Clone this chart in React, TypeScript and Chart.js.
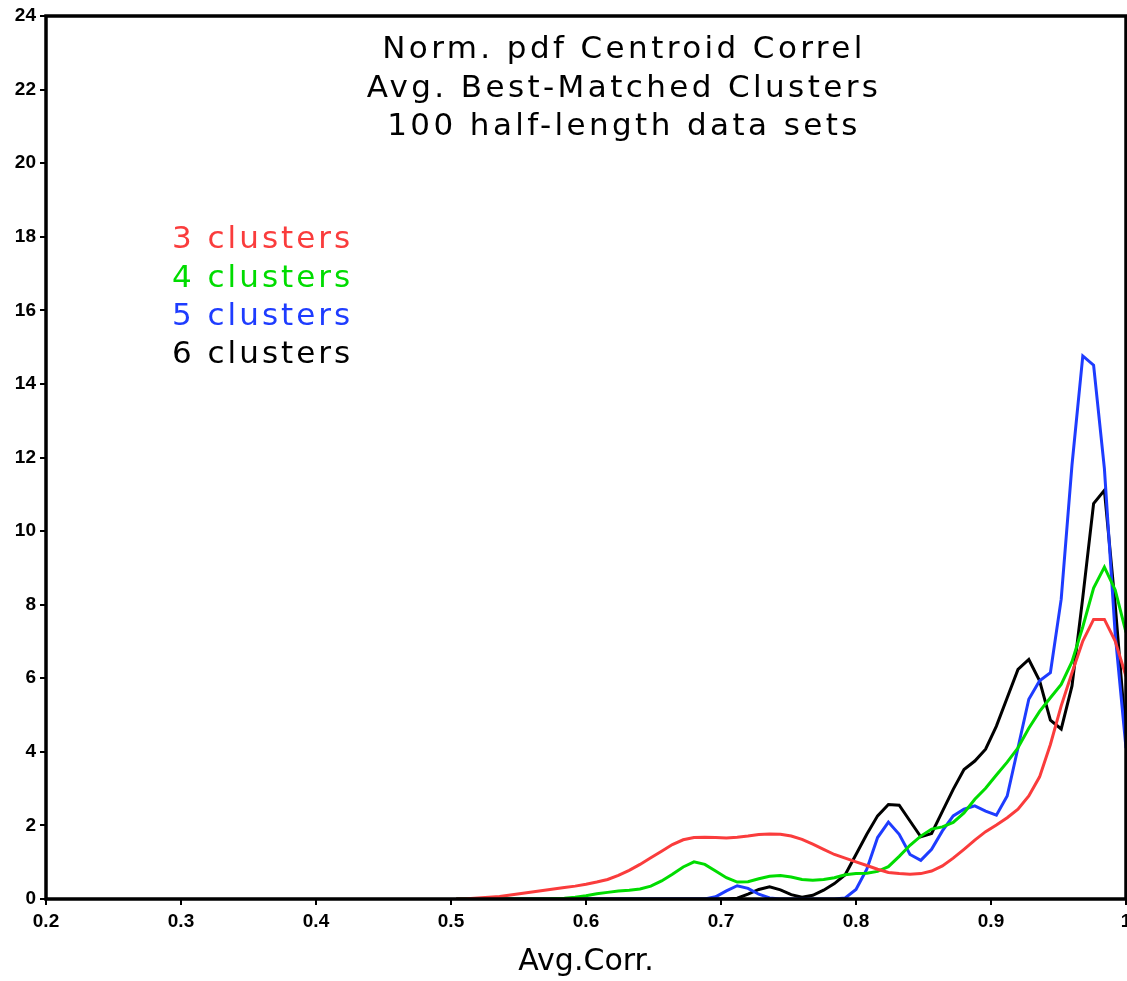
import React, { useEffect, useRef } from "react";
import { Chart, registerables } from "chart.js";

Chart.register(...registerables);

const X_VALUES = [
  0.504, 0.512, 0.52, 0.528, 0.536, 0.544, 0.552, 0.56, 0.568, 0.576, 0.584, 0.592, 0.6,
  0.608, 0.616, 0.624, 0.632, 0.64, 0.648, 0.656, 0.664, 0.672, 0.68, 0.688, 0.696, 0.704,
  0.712, 0.72, 0.728, 0.736, 0.744, 0.752, 0.76, 0.768, 0.776, 0.784, 0.792, 0.8,
  0.808, 0.816, 0.824, 0.832, 0.84, 0.848, 0.856, 0.864, 0.872, 0.88, 0.888, 0.896, 0.904,
  0.912, 0.92, 0.928, 0.936, 0.944, 0.952, 0.96, 0.968, 0.976, 0.984, 0.992, 1.0,
];

const RED_3 = [
  0, 0.01, 0.03, 0.05, 0.07, 0.11, 0.15, 0.19, 0.23, 0.27, 0.31, 0.35, 0.4,
  0.46, 0.53, 0.64, 0.78, 0.94, 1.12, 1.3, 1.48, 1.61, 1.67, 1.68, 1.67, 1.66,
  1.68, 1.71, 1.75, 1.77, 1.76, 1.71, 1.62, 1.49, 1.35, 1.21, 1.11, 1.01,
  0.91, 0.81, 0.72, 0.69, 0.67, 0.69, 0.76, 0.9, 1.11, 1.35, 1.6, 1.83, 2.01,
  2.21, 2.44, 2.8, 3.32, 4.2, 5.25, 6.15, 7.01, 7.6, 7.6, 7.01, 6.05,
];

const GREEN_4 = [
  0, 0, 0, 0, 0, 0, 0, 0, 0, 0.01, 0.02, 0.05, 0.09,
  0.14, 0.18, 0.22, 0.24, 0.27, 0.35, 0.49, 0.67, 0.87, 1.01, 0.94, 0.76, 0.58,
  0.46, 0.47, 0.55, 0.62, 0.64, 0.6, 0.53, 0.51, 0.53, 0.58, 0.66, 0.69,
  0.7, 0.75, 0.88, 1.16, 1.46, 1.71, 1.9, 1.96, 2.08, 2.34, 2.71, 3.01, 3.37,
  3.72, 4.11, 4.64, 5.1, 5.47, 5.83, 6.45, 7.4, 8.45, 9.02, 8.4, 7.25,
];

const BLUE_5 = [
  0, 0, 0, 0, 0, 0, 0, 0, 0, 0, 0, 0, 0,
  0, 0, 0, 0, 0, 0, 0, 0, 0, 0, 0, 0.06, 0.22,
  0.36, 0.29, 0.13, 0.03, 0, 0, 0, 0, 0, 0, 0.03, 0.26,
  0.81, 1.67, 2.09, 1.76, 1.21, 1.05, 1.35, 1.85, 2.26, 2.44, 2.53, 2.39, 2.28,
  2.8, 4.11, 5.43, 5.93, 6.15, 8.15, 11.8, 14.76, 14.51, 11.7, 7.2, 4.1,
];

const BLACK_6 = [
  0, 0, 0, 0, 0, 0, 0, 0, 0, 0, 0, 0, 0,
  0, 0, 0, 0, 0, 0, 0, 0, 0, 0, 0, 0, 0,
  0.02, 0.13, 0.26, 0.33, 0.25, 0.12, 0.05, 0.1, 0.24, 0.42, 0.66, 1.21,
  1.76, 2.26, 2.57, 2.55, 2.12, 1.69, 1.78, 2.38, 2.98, 3.52, 3.75, 4.07, 4.7,
  5.47, 6.24, 6.51, 5.93, 4.86, 4.62, 5.79, 8.2, 10.75, 11.11, 8.0, 4.4,
];

const X_TICKS = [0.2, 0.3, 0.4, 0.5, 0.6, 0.7, 0.8, 0.9, 1.0];
const Y_TICKS = [0, 2, 4, 6, 8, 10, 12, 14, 16, 18, 20, 22, 24];

const TITLE_LINES = ["Norm. pdf Centroid Correl", "Avg. Best-Matched Clusters", "100 half-length data sets"];
const LEGEND_LABELS = ["3 clusters", "4 clusters", "5 clusters", "6 clusters"];
const X_TITLE = "Avg.Corr.";

const COLORS = ["rgb(250,60,60)", "rgb(0,220,0)", "rgb(30,60,255)", "rgb(0,0,0)"];
const SERIES = [RED_3, GREEN_4, BLUE_5, BLACK_6];

const decorPlugin = {
  id: "decor",
  afterDraw(chart: any) {
    const ctx = chart.ctx as CanvasRenderingContext2D;
    const a = chart.chartArea;
    ctx.save();
    // frame
    ctx.strokeStyle = "#000";
    ctx.lineWidth = 3.5;
    ctx.strokeRect(a.left, a.top, a.right - a.left, a.bottom - a.top);

    // title
    ctx.fillStyle = "#000";
    ctx.font = '31px "DejaVu Sans"';
    (ctx as any).letterSpacing = "3.4px";
    ctx.textAlign = "center";
    ctx.textBaseline = "alphabetic";
    const titleBase = [58, 96.5, 135];
    TITLE_LINES.forEach((t, i) => ctx.fillText(t, 624, titleBase[i]));

    // legend
    ctx.textAlign = "left";
    (ctx as any).letterSpacing = "3px";
    const legBase = [248, 286.5, 324.5, 362.5];
    LEGEND_LABELS.forEach((t, i) => {
      ctx.fillStyle = COLORS[i];
      ctx.fillText(t, 172, legBase[i]);
    });

    // x title
    (ctx as any).letterSpacing = "0px";
    ctx.fillStyle = "#000";
    ctx.font = '30px "DejaVu Sans"';
    ctx.textAlign = "center";
    ctx.fillText(X_TITLE, 586, 970);
    ctx.restore();
  },
};

export default function App() {
  const ref = useRef<HTMLCanvasElement | null>(null);
  useEffect(() => {
    document.body.style.margin = "0";
    const canvas = ref.current!;
    const tickFont = { family: '"Liberation Sans", Arial, sans-serif', size: 19, weight: "bold" as const };
    const gridOpts = {
      display: true,
      drawOnChartArea: false,
      drawTicks: true,
      tickLength: 6,
      lineWidth: 2,
      color: "#000",
    };
    const chart = new Chart(canvas, {
      type: "line",
      data: {
        datasets: SERIES.map((s, i) => ({
          label: LEGEND_LABELS[i],
          data: X_VALUES.map((x, j) => ({ x, y: s[j] })),
          borderColor: COLORS[i],
          backgroundColor: COLORS[i],
          borderWidth: 3,
          pointRadius: 0,
          tension: 0,
          fill: false,
        })),
      },
      options: {
        responsive: false,
        animation: false,
        layout: { autoPadding: false, padding: { top: 16, right: 1, left: 0, bottom: 0 } } as any,
        plugins: {
          legend: { display: false },
          title: { display: false },
          tooltip: { enabled: false },
        },
        scales: {
          x: {
            type: "linear",
            min: 0.2,
            max: 1.0,
            afterBuildTicks: (axis: any) => {
              axis.ticks = X_TICKS.map((v) => ({ value: v }));
            },
            afterFit: (axis: any) => {
              axis.height = 82;
              axis.paddingLeft = 0;
              axis.paddingRight = 0;
            },
            grid: gridOpts,
            border: { display: false },
            ticks: {
              padding: 5,
              color: "#000",
              font: tickFont,
              maxRotation: 0,
              autoSkip: false,
              callback: (v: any) => (Math.abs(Number(v) - 1) < 1e-9 ? "1" : Number(v).toFixed(1)),
            },
          },
          y: {
            type: "linear",
            min: 0,
            max: 24,
            afterBuildTicks: (axis: any) => {
              axis.ticks = Y_TICKS.map((v) => ({ value: v }));
            },
            afterFit: (axis: any) => {
              axis.width = 46;
              axis.paddingTop = 0;
              axis.paddingBottom = 0;
            },
            grid: gridOpts,
            border: { display: false },
            ticks: {
              padding: 4,
              color: "#000",
              font: tickFont,
              autoSkip: false,
              callback: (v: any) => String(v),
            },
          },
        },
      },
      plugins: [decorPlugin],
    });
    return () => chart.destroy();
  }, []);
  return <canvas ref={ref} width={1127} height={981} style={{ display: "block" }} />;
}
